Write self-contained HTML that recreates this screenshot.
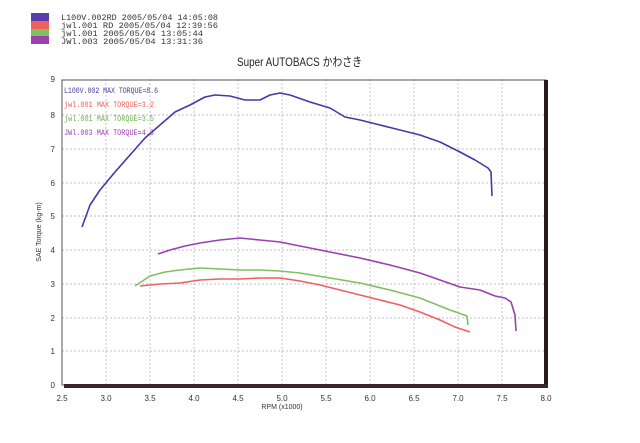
<!DOCTYPE html>
<html><head><meta charset="utf-8"><style>
body{margin:0;background:#fff;}
svg{display:block;font-family:"Liberation Sans","Noto Sans CJK JP",sans-serif;}
</style></head><body>
<svg width="640" height="443" viewBox="0 0 640 443">
<rect width="640" height="443" fill="#fff"/>
<rect x="31" y="13" width="18" height="8" fill="#5a3fa8"/>
<rect x="31" y="21" width="18" height="8" fill="#f0605c"/>
<rect x="31" y="29" width="18" height="7" fill="#7fc060"/>
<rect x="31" y="36" width="18" height="8" fill="#9a40b0"/>
<g font-size="8" fill="#333" font-family="Liberation Mono,monospace">
<text x="61" y="20" textLength="157" lengthAdjust="spacingAndGlyphs">L100V.002RD  2005/05/04 14:05:08</text>
<text x="61" y="28" textLength="157" lengthAdjust="spacingAndGlyphs">jwl.001  RD  2005/05/04 12:39:56</text>
<text x="61" y="36" textLength="142" lengthAdjust="spacingAndGlyphs">jwl.001   2005/05/04 13:05:44</text>
<text x="61" y="44" textLength="142" lengthAdjust="spacingAndGlyphs">JWl.003   2005/05/04 13:31:36</text>
</g>
<text x="237" y="66" font-size="12" fill="#222" textLength="125" lengthAdjust="spacingAndGlyphs">Super AUTOBACS かわさき</text>
<g stroke="#aaa" stroke-width="0.7" stroke-dasharray="2,2">
<line x1="106" y1="79" x2="106" y2="385"/><line x1="150" y1="79" x2="150" y2="385"/>
<line x1="194" y1="79" x2="194" y2="385"/><line x1="238" y1="79" x2="238" y2="385"/>
<line x1="282" y1="79" x2="282" y2="385"/><line x1="326" y1="79" x2="326" y2="385"/>
<line x1="370" y1="79" x2="370" y2="385"/><line x1="414" y1="79" x2="414" y2="385"/>
<line x1="458" y1="79" x2="458" y2="385"/><line x1="502" y1="79" x2="502" y2="385"/>
<line x1="62" y1="115" x2="546" y2="115"/><line x1="62" y1="149" x2="546" y2="149"/>
<line x1="62" y1="183" x2="546" y2="183"/><line x1="62" y1="216" x2="546" y2="216"/>
<line x1="62" y1="250" x2="546" y2="250"/><line x1="62" y1="284" x2="546" y2="284"/>
<line x1="62" y1="318" x2="546" y2="318"/><line x1="62" y1="351" x2="546" y2="351"/>
</g>
<rect x="62" y="80" width="484" height="305" fill="none" stroke="#555" stroke-width="1"/>
<line x1="546" y1="80" x2="546" y2="388" stroke="#2a1a1a" stroke-width="4"/>
<line x1="64" y1="386" x2="548" y2="386" stroke="#3a2626" stroke-width="4"/>
<g font-size="8" fill="#333" text-anchor="middle">
<text x="62" y="401">2.5</text><text x="106" y="401">3.0</text><text x="150" y="401">3.5</text>
<text x="194" y="401">4.0</text><text x="238" y="401">4.5</text><text x="282" y="401">5.0</text>
<text x="326" y="401">5.5</text><text x="370" y="401">6.0</text><text x="414" y="401">6.5</text>
<text x="458" y="401">7.0</text><text x="502" y="401">7.5</text><text x="546" y="401">8.0</text>
<text x="282" y="409" font-size="7">RPM (x1000)</text>
</g>
<g font-size="8" fill="#333" text-anchor="end">
<text x="55" y="82">9</text><text x="55" y="118">8</text><text x="55" y="152">7</text>
<text x="55" y="186">6</text><text x="55" y="219">5</text><text x="55" y="253">4</text>
<text x="55" y="287">3</text><text x="55" y="321">2</text><text x="55" y="354">1</text><text x="55" y="388">0</text>
</g>
<text transform="translate(41,232) rotate(-90)" font-size="7" fill="#333" text-anchor="middle">SAE Torque (kg-m)</text>
<g font-size="8" font-family="Liberation Mono,monospace">
<text x="64" y="93" fill="#4a3aa0" textLength="94" lengthAdjust="spacingAndGlyphs">L100V.002  MAX TORQUE=8.6</text>
<text x="64" y="107" fill="#f0605c" textLength="90" lengthAdjust="spacingAndGlyphs">jwl.001  MAX TORQUE=3.2</text>
<text x="64" y="121" fill="#6fb050" textLength="90" lengthAdjust="spacingAndGlyphs">jwl.001  MAX TORQUE=3.5</text>
<text x="64" y="135" fill="#9a40b0" textLength="90" lengthAdjust="spacingAndGlyphs">JWl.003  MAX TORQUE=4.3</text>
</g>
<g fill="none" stroke-width="1.6" stroke-linejoin="round">
<polyline stroke="#4a36a8" points="82,227 90,205 100,190 115,172 130,155 145,138 160,125 175,112 190,105 205,97 215,95 230,96 245,100 260,100 270,95 280,93 290,95 310,102 330,108 345,117 360,120 380,125 400,130 420,135 440,142 460,152 475,160 488,168 491,172 492,196"/>
<polyline stroke="#f06060" points="140,286 160,284 180,283 200,280 220,279 240,279 260,278 280,278 300,281 320,285 340,290 360,295 380,300 400,305 420,312 440,320 455,327 470,332"/>
<polyline stroke="#7fc060" points="135,286 150,276 165,272 180,270 200,268 220,269 240,270 260,270 280,271 300,273 330,278 360,283 390,290 420,298 450,310 467,316 468,325"/>
<polyline stroke="#9a40b0" points="158,254 170,250 185,246 200,243 220,240 240,238 260,240 280,242 300,246 330,252 360,258 390,265 420,273 460,287 480,290 495,296 505,298 511,302 515,315 516,331"/>
</g>
</svg>
</body></html>
